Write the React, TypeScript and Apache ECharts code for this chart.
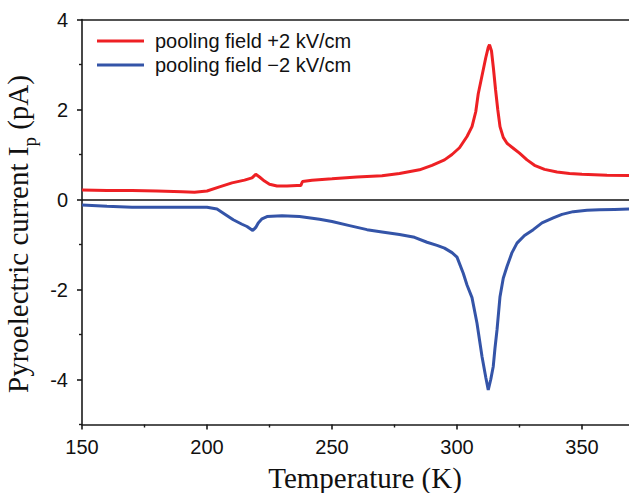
import React, { useEffect, useRef } from "react";
import * as echarts from "echarts";

const redT = [150, 160, 170, 180, 190, 195, 200, 205, 210, 215, 218, 219.5, 221, 223, 225, 228, 232, 236, 237.5, 238.2, 242, 250, 260, 270, 277, 285, 290, 295, 298, 301, 304, 306, 307.5, 308.5, 310, 311.5, 312.5, 313, 313.8, 314.6, 315.4, 316.3, 317.2, 318.5, 320, 322.5, 325, 328, 331, 335, 340, 345, 350, 360, 370];
const redI = [0.21, 0.2, 0.2, 0.19, 0.17, 0.16, 0.19, 0.28, 0.37, 0.43, 0.48, 0.56, 0.5, 0.41, 0.34, 0.3, 0.3, 0.31, 0.31, 0.4, 0.43, 0.46, 0.5, 0.53, 0.58, 0.66, 0.76, 0.88, 1.0, 1.15, 1.4, 1.62, 1.95, 2.35, 2.75, 3.15, 3.38, 3.44, 3.3, 2.9, 2.45, 2.0, 1.62, 1.38, 1.25, 1.14, 1.03, 0.88, 0.76, 0.67, 0.61, 0.58, 0.56, 0.54, 0.53];

const blueT = [150, 160, 170, 185, 200, 204, 207, 210.5, 214, 216, 218.3, 219.5, 220.5, 222, 224, 230, 237, 245, 250, 257, 264, 270, 277, 283, 288, 292, 295, 298, 300, 302.5, 304, 306, 308, 310, 311.5, 312.5, 313.5, 314.5, 315.2, 316, 317.2, 318.5, 320, 322, 324, 327, 330.5, 334, 338.5, 342, 346.5, 352, 357, 363, 370];
const blueI = [-0.12, -0.15, -0.17, -0.17, -0.17, -0.21, -0.32, -0.45, -0.55, -0.6, -0.69, -0.62, -0.52, -0.43, -0.38, -0.36, -0.38, -0.44, -0.49, -0.58, -0.67, -0.72, -0.78, -0.84, -0.95, -1.02, -1.08, -1.18, -1.28, -1.64, -1.9, -2.18, -2.75, -3.49, -3.95, -4.23, -4.0, -3.71, -3.3, -2.9, -2.16, -1.75, -1.49, -1.18, -0.97, -0.8, -0.67, -0.52, -0.41, -0.33, -0.27, -0.24, -0.23, -0.22, -0.21];

const seriesNames = ["pooling field +2 kV/cm", "pooling field \u22122 kV/cm"];
const xRange = { min: 150, max: 370 };
const xMajor = [150, 200, 250, 300, 350];
const xMinor = [175, 225, 275, 325];
const yRange = { min: -5, max: 4 };
const yMajor = [-4, -2, 0, 2, 4];
const yMinor = [-5, -3, -1, 1, 3];

const sans = "Liberation Sans";
const serif = "Liberation Serif";
const ink = "#1a1a1a";

export default function App() {
  const ref = useRef<HTMLDivElement>(null);
  useEffect(() => {
    if (!ref.current) return;
    const chart = echarts.init(ref.current, null, { renderer: "svg" });
    const axisLine = { show: true, onZero: false, lineStyle: { color: ink, width: 1.6 } };
    const hiddenLine = { show: false, onZero: false };
    const hidden = { show: false };
    chart.setOption({
      animation: false,
      backgroundColor: "#fff",
      grid: { left: 82, top: 19.5, width: 550, height: 405, containLabel: false, outerBoundsMode: "none" },
      legend: {
        orient: "vertical",
        left: 97,
        top: 31,
        padding: 0,
        itemGap: 4,
        itemWidth: 47,
        itemHeight: 3,
        icon: "rect",
        textStyle: { fontFamily: sans, fontSize: 20, color: "#111", lineHeight: 20, padding: [0, 0, 0, 6] },
        data: seriesNames,
      },
      xAxis: [
        {
          type: "value",
          min: xRange.min,
          max: xRange.max,
          position: "bottom",
          axisLine,
          axisTick: { show: true, length: 5, customValues: xMajor, lineStyle: { color: ink, width: 1.6 } },
          splitLine: hidden,
          axisLabel: { fontFamily: sans, fontSize: 20, color: "#111", margin: 12, customValues: xMajor },
          name: "Temperature (K)",
          nameLocation: "middle",
          nameGap: 39,
          nameTextStyle: { fontFamily: serif, fontSize: 29, color: "#111", padding: [0, 0, 0, 16] },
        },
        {
          type: "value",
          min: xRange.min,
          max: xRange.max,
          position: "bottom",
          axisLine: hiddenLine,
          axisTick: { show: true, length: 3, customValues: xMinor, lineStyle: { color: ink, width: 1.4 } },
          axisLabel: hidden,
          splitLine: hidden,
        },
        {
          type: "value",
          min: xRange.min,
          max: xRange.max,
          position: "top",
          axisLine,
          axisTick: hidden,
          axisLabel: hidden,
          splitLine: hidden,
        },
      ],
      yAxis: [
        {
          type: "value",
          min: yRange.min,
          max: yRange.max,
          position: "left",
          axisLine,
          axisTick: { show: true, length: 5, customValues: yMajor, lineStyle: { color: ink, width: 1.6 } },
          splitLine: hidden,
          axisLabel: { fontFamily: sans, fontSize: 20, color: "#111", margin: 14, customValues: yMajor },
          name: "Pyroelectric current I{sub|p} (pA)",
          nameLocation: "middle",
          nameGap: 36,
          nameTextStyle: {
            fontFamily: serif,
            fontSize: 29,
            color: "#111",
            padding: [0, 24, 0, 0],
            rich: {
              sub: { fontFamily: serif, fontSize: 19, color: "#111", padding: [24, 0, 0, 0] },
            },
          },
        },
        {
          type: "value",
          min: yRange.min,
          max: yRange.max,
          position: "left",
          axisLine: hiddenLine,
          axisTick: { show: true, length: 3, customValues: yMinor, lineStyle: { color: ink, width: 1.4 } },
          axisLabel: hidden,
          splitLine: hidden,
        },
      ],
      series: [
        {
          name: seriesNames[0],
          type: "line",
          data: redT.map((t, i) => [t, redI[i]]),
          showSymbol: false,
          symbol: "none",
          lineStyle: { color: "#ee2024", width: 3 },
          itemStyle: { color: "#ee2024" },
          markLine: {
            silent: true,
            symbol: "none",
            label: { show: false },
            lineStyle: { color: "#111", width: 1.6, type: "solid" },
            data: [{ yAxis: 0 }],
          },
          z: 3,
        },
        {
          name: seriesNames[1],
          type: "line",
          data: blueT.map((t, i) => [t, blueI[i]]),
          showSymbol: false,
          symbol: "none",
          lineStyle: { color: "#3454a8", width: 3 },
          itemStyle: { color: "#3454a8" },
          z: 3,
        },
      ],
    });
    return () => chart.dispose();
  }, []);
  return <div ref={ref} style={{ position: "fixed", left: 0, top: 0, width: 629, height: 493 }} />;
}
